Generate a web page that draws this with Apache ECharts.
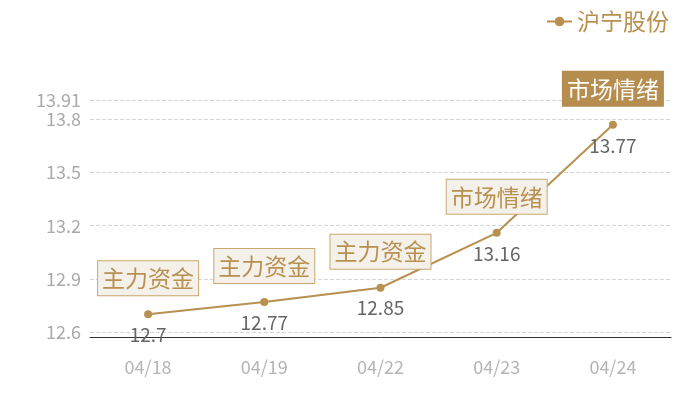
<!DOCTYPE html>
<html>
<head>
<meta charset="utf-8">
<script src="https://cdn.jsdelivr.net/npm/echarts@6/dist/echarts.min.js"></script>
<style>html,body{margin:0;padding:0;background:#fff;}#c{width:700px;height:400px;}</style>
</head>
<body>
<div id="c"></div>
<script>
var categories = ['04/18', '04/19', '04/22', '04/23', '04/24'];
var values = [12.7, 12.77, 12.85, 13.16, 13.77];
var tags = ['主力资金', '主力资金', '主力资金', '市场情绪', '市场情绪'];
var seriesName = '沪宁股份';
var yMin = 12.6, yMax = 13.91, yInterval = 0.3;

var gold = '#b8904f';
var font = '"Noto Sans CJK SC", "Noto Sans", sans-serif';

var markData = categories.map(function (c, i) {
  var last = i === categories.length - 1;
  return {
    coord: [c, values[i]],
    value: tags[i],
    label: last ? {
      backgroundColor: '#b58d4e',
      borderColor: '#b58d4e',
      color: '#ffffff'
    } : {}
  };
});

var chart = echarts.init(document.getElementById('c'));
chart.setOption({
  animation: false,
  textStyle: { fontFamily: font },
  legend: {
    right: 26, top: 5,
    itemWidth: 25, itemHeight: 12, itemGap: 6,
    textStyle: { color: gold, fontSize: 23, fontFamily: font },
    data: [seriesName]
  },
  grid: { left: 90, right: 29, top: 100, bottom: 68 },
  xAxis: {
    type: 'category',
    data: categories,
    offset: 5,
    axisLine: { lineStyle: { color: '#333' } },
    axisTick: { show: false },
    axisLabel: { color: '#b5b5b5', fontSize: 18, margin: 21, fontFamily: font }
  },
  yAxis: {
    type: 'value',
    min: yMin, max: yMax, interval: yInterval,
    axisLine: { show: false },
    axisTick: { show: false },
    axisLabel: { color: '#aaaaaa', fontSize: 18, margin: 9, fontFamily: font },
    splitLine: { lineStyle: { color: '#d5d5d5', type: 'dashed' } }
  },
  series: [{
    name: seriesName,
    type: 'line',
    data: values,
    symbol: 'circle',
    symbolSize: 8,
    lineStyle: { color: gold, width: 2 },
    itemStyle: { color: gold },
    label: {
      show: true, position: 'bottom', distance: 7,
      color: '#666666', fontSize: 19, fontFamily: font
    },
    markPoint: {
      symbol: 'rect',
      symbolSize: 1,
      itemStyle: { color: 'rgba(0,0,0,0)' },
      label: {
        show: true,
        position: 'inside',
        offset: [0, -36],
        formatter: '{c}',
        color: gold,
        fontSize: 23,
        fontFamily: font,
        backgroundColor: '#f4f0ea',
        borderColor: '#c9a86f',
        borderWidth: 1,
        padding: [6, 4, 5, 4]
      },
      data: markData
    }
  }]
});
</script>
</body>
</html>
